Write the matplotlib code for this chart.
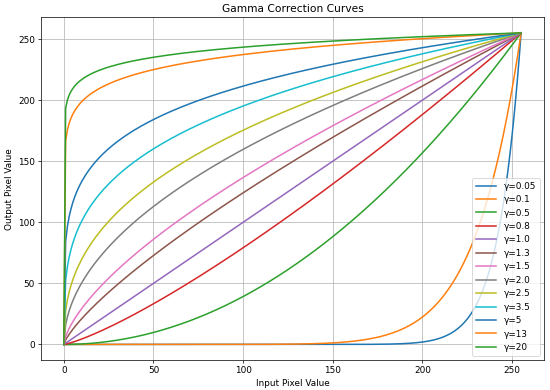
import numpy as np
import matplotlib
matplotlib.use("Agg")
import matplotlib.pyplot as plt

gammas = [0.05, 0.1, 0.5, 0.8, 1.0, 1.3, 1.5, 2.0, 2.5, 3.5, 5, 13, 20]
labels = ["γ=0.05", "γ=0.1", "γ=0.5", "γ=0.8", "γ=1.0", "γ=1.3", "γ=1.5",
          "γ=2.0", "γ=2.5", "γ=3.5", "γ=5", "γ=13", "γ=20"]
x = np.arange(256)

s = 0.64
plt.rcParams.update({
    'font.size': 10 * s,
    'axes.titlesize': 12 * s,
    'lines.linewidth': 1.1,
    'axes.linewidth': 0.8 * s,
    'grid.linewidth': 0.8 * s,
    'xtick.major.size': 3.5 * s,
    'ytick.major.size': 3.5 * s,
    'xtick.major.width': 0.8 * s,
    'ytick.major.width': 0.8 * s,
    'xtick.major.pad': 3.5 * s,
    'ytick.major.pad': 3.5 * s,
    'axes.labelpad': 4.0 * s,
    'axes.titlepad': 6.0 * s,
    'patch.linewidth': 1.0 * s,
})

fig, ax = plt.subplots(figsize=(5.5, 3.9), dpi=100)
for g, lab in zip(gammas, labels):
    y = 255.0 * (x / 255.0) ** (1.0 / g)
    ax.plot(x, y, label=lab)

ax.set_title("Gamma Correction Curves")
ax.set_xlabel("Input Pixel Value")
ax.set_ylabel("Output Pixel Value")
ax.grid(True)
ax.legend(loc="lower right", handlelength=2.3)
fig.subplots_adjust(left=0.0745, right=0.989, top=0.9556, bottom=0.0769)
fig.savefig("out.png", dpi=100)
